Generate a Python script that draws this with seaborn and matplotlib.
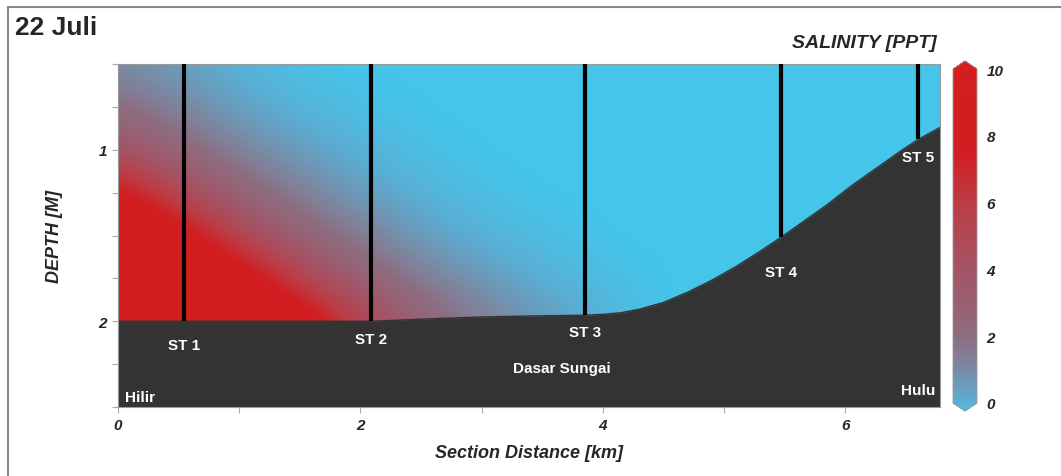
import numpy as np
import matplotlib
matplotlib.use('Agg')
import matplotlib.pyplot as plt
import seaborn as sns
from matplotlib.colors import LinearSegmentedColormap, Normalize
from matplotlib.cm import ScalarMappable
from matplotlib.patches import Rectangle

# salinity section (ppt), rows = depth, cols = distance (0 .. 7 km, 0.5 km step)
dist_km = [0.0, 0.5, 1.0, 1.5, 2.0, 2.5, 3.0, 3.5, 4.0, 4.5, 5.0, 5.5, 6.0, 6.5, 7.0]
depth_m = [0.5, 0.75, 1.0, 1.25, 1.5, 1.75, 2.0]
salinity = [
    [0.9, 0.4, -0.2, -0.8, -1.0, -1.0, -1.0, -1.0, -1.0, -1.0, -1.0, -1.0, -1.0, -1.0, -1.0],
    [2.1, 1.1, 0.4, -0.2, -0.7, -1.0, -1.0, -1.0, -1.0, -1.0, -1.0, -1.0, -1.0, -1.0, -1.0],
    [4.0, 2.3, 1.1, 0.5, -0.1, -0.7, -1.0, -1.0, -1.0, -1.0, -1.0, -1.0, -1.0, -1.0, -1.0],
    [8.5, 4.8, 2.5, 1.2, 0.5, -0.1, -0.7, -1.0, -1.0, -1.0, -1.0, -1.0, -1.0, -1.0, -1.0],
    [10.0, 9.2, 5.0, 2.6, 1.3, 0.5, -0.1, -0.6, -1.0, -1.0, -1.0, -1.0, -1.0, -1.0, -1.0],
    [10.0, 10.0, 9.6, 5.2, 2.7, 1.3, 0.6, 0.0, -0.6, -1.0, -1.0, -1.0, -1.0, -1.0, -1.0],
    [10.0, 10.0, 10.0, 9.9, 5.3, 2.8, 1.4, 0.6, 0.0, -1.0, -1.0, -1.0, -1.0, -1.0, -1.0],
]

# river bed profile
bed_km = [0.0, 1.0, 2.09, 2.6, 3.0, 3.5, 3.85, 4.0, 4.15, 4.3, 4.5, 4.7, 4.9,
          5.1, 5.3, 5.47, 5.65, 5.85, 6.05, 6.25, 6.45, 6.6, 6.78]
bed_depth = [2.0, 2.0, 2.0, 1.985, 1.975, 1.968, 1.965, 1.96, 1.95, 1.93,
             1.89, 1.83, 1.76, 1.68, 1.59, 1.51, 1.42, 1.32, 1.21, 1.11,
             1.01, 0.94, 0.87]

# stations
st_names = ['ST 1', 'ST 2', 'ST 3', 'ST 4', 'ST 5']
st_km = [0.544, 2.09, 3.85, 5.47, 6.6]
st_bottom = [2.0, 2.0, 1.965, 1.51, 0.94]
st_label_depth = [2.14, 2.105, 2.064, 1.71, 1.04]

cb_ticks = [0, 2, 4, 6, 8, 10]

sns.set_style('ticks')
plt.rcParams['font.family'] = ['Liberation Sans', 'DejaVu Sans']

nodes = [(-1, '#45c5ea'), (0, '#5aaed4'), (1, '#7a8aa4'), (2, '#8e6c80'),
         (4, '#a45465'), (6, '#bc3c44'), (7.5, '#d21e22'), (10, '#d41e1e')]
field_cmap = LinearSegmentedColormap.from_list(
    'sal', [((v + 1) / 11, c) for v, c in nodes])
cb_cmap = LinearSegmentedColormap.from_list(
    'salcb', [(v / 10, c) for v, c in nodes if v >= 0])
cb_cmap.set_under('#5ab4d8')
cb_cmap.set_over('#d41e1e')

fig = plt.figure(figsize=(10.61, 4.77), dpi=100)
ax = fig.add_axes([118 / 1061, 1 - 408 / 477, 822 / 1061, 343 / 477])

dx = (dist_km[1] - dist_km[0]) / 2
dy = (depth_m[1] - depth_m[0]) / 2
ax.imshow(np.array(salinity), cmap=field_cmap, norm=Normalize(-1, 10),
          interpolation='bicubic', aspect='auto', origin='upper',
          extent=[dist_km[0] - dx, dist_km[-1] + dx, depth_m[-1] + dy,
                  depth_m[0] - dy], zorder=1)

ax.fill_between(bed_km, bed_depth, 2.6, color='#333333', lw=0, zorder=2)
sns.lineplot(x=bed_km, y=bed_depth, ax=ax, color='#333333', lw=1, zorder=2,
             sort=False, estimator=None)

ax.vlines(st_km, 0.4, st_bottom, colors='black', lw=3, zorder=3)
for name, x, yl in zip(st_names, st_km, st_label_depth):
    ax.text(x, yl, name, color='white', fontsize=11, fontweight='bold',
            ha='center', va='center', zorder=4)

ax.text(3.66, 2.27, 'Dasar Sungai', color='white', fontsize=11,
        fontweight='bold', ha='center', va='center', zorder=4)
ax.text(0.06, 2.44, 'Hilir', color='white', fontsize=11, fontweight='bold',
        ha='left', va='center', zorder=4)
ax.text(6.74, 2.4, 'Hulu', color='white', fontsize=11, fontweight='bold',
        ha='right', va='center', zorder=4)

ax.set_xlim(0, 6.78)
ax.set_ylim(2.5, 0.5)
ax.set_xticks([0, 2, 4, 6])
ax.set_xticks([1, 3, 5], minor=True)
ax.set_yticks([1, 2])
ax.set_yticks([0.5, 0.75, 1.25, 1.5, 1.75, 2.25, 2.5], minor=True)
ax.tick_params(which='both', length=4, width=0.8, color='#aaaaaa',
               labelsize=11, pad=4)
for lab in ax.get_xticklabels() + ax.get_yticklabels():
    lab.set_fontweight('bold')
    lab.set_fontstyle('italic')
for sp in ax.spines.values():
    sp.set_color('#999999')
    sp.set_linewidth(0.8)

ax.set_xlabel('Section Distance [km]', fontsize=13, fontweight='bold',
              fontstyle='italic')
ax.xaxis.set_label_coords(0.5, -0.108)
ax.set_ylabel('DEPTH [M]', fontsize=13, fontweight='bold', fontstyle='italic')
ax.yaxis.set_label_coords(-0.067, 0.5)

cax = fig.add_axes([953 / 1061, 1 - 412 / 477, 24 / 1061, 350 / 477])
cb = fig.colorbar(ScalarMappable(norm=Normalize(0, 10), cmap=cb_cmap),
                  cax=cax, extend='both', extendfrac=0.024, ticks=cb_ticks)
cb.outline.set_edgecolor('#999999')
cb.outline.set_linewidth(0.6)
cb.ax.tick_params(length=0, pad=7, labelsize=11)
for lab in cb.ax.get_yticklabels():
    lab.set_fontweight('bold')
    lab.set_fontstyle('italic')

fig.text(937 / 1061, 1 - 44 / 477, 'SALINITY [PPT]', fontsize=14,
         fontweight='bold', fontstyle='italic', ha='right', va='center')
fig.text(15 / 1061, 1 - 28 / 477, '22 Juli', fontsize=19, fontweight='bold',
         ha='left', va='center')

fig.add_artist(Rectangle((8 / 1061, -0.1), 1.2, 1.1 - 8 / 477, fill=False,
                         edgecolor='#888888', lw=1.5,
                         transform=fig.transFigure))

fig.savefig('out.png', dpi=100)
